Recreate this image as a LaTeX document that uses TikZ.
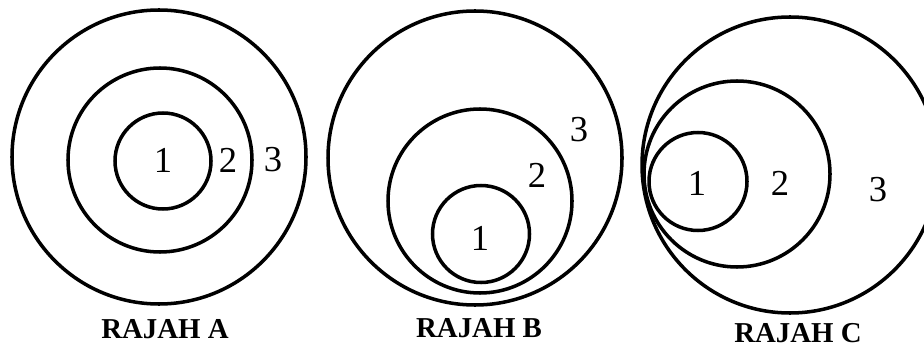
\documentclass[tikz,border=0pt]{standalone}
\usepackage{fontspec}
\setmainfont{Liberation Serif}

\begin{document}
\begin{tikzpicture}[
    x=0.025cm, y=-0.025cm,
    ring/.style={draw=black, line width=2.5pt},
    num/.style={font=\fontsize{26}{30}\selectfont, inner sep=0pt},
    rajah/.style={font=\fontsize{20.5}{24}\selectfont\bfseries, inner sep=0pt}
  ]
  \useasboundingbox (0,0) rectangle (924,347);

  % Rajah A: concentric
  \draw[ring] (159,157) circle[radius=147];
  \draw[ring] (160,160) circle[radius=92];
  \draw[ring] (163,161) circle[radius=48];
  \node[num] (a1) at (163,160) {1};
  \node[num] (a2) at (228,160) {2};
  \node[num] (a3) at (273,160) {3};
  \node[rajah] (capA) at (165,329) {RAJAH A};

  % Rajah B: touching at the bottom
  \draw[ring] (475,158) circle[radius=147];
  \draw[ring] (480,201) circle[radius=92];
  \draw[ring] (481,234) circle[radius=48.5];
  \node[num] (b1) at (480,238) {1};
  \node[num] (b2) at (537,175) {2};
  \node[num] (b3) at (579,130) {3};
  \node[rajah] (capB) at (479,328) {RAJAH B};

  % Rajah C: touching at the left
  \draw[ring] (790,165) circle[radius=148];
  \draw[ring] (737,174) circle[radius=93];
  \draw[ring] (698,181.5) circle[radius=49];
  \node[num] (c1) at (697,183) {1};
  \node[num] (c2) at (780,183) {2};
  \node[num] (c3) at (878,190) {3};
  \node[rajah] (capC) at (798,333) {RAJAH C};
\end{tikzpicture}
\end{document}
